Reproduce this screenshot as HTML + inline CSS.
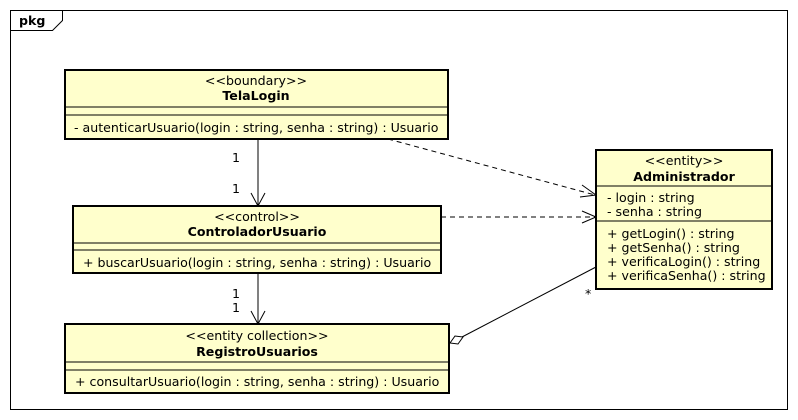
<!DOCTYPE html>
<html><head><meta charset="utf-8"><style>
html,body{margin:0;padding:0;background:#fff;}
svg{display:block;}
text{font-family:"DejaVu Sans","Liberation Sans",sans-serif;font-size:12.6px;fill:#000;}
.b{font-weight:bold;}
</style></head><body>
<svg width="798" height="420" viewBox="0 0 798 420" xmlns="http://www.w3.org/2000/svg">
<rect x="10.5" y="10.5" width="777" height="399" fill="#fff" stroke="#000" stroke-width="1"/>
<path d="M10.5 30.5 H52.5 L62.5 20.5 V10.5" fill="none" stroke="#000"/>
<text x="19" y="25" class="b" style="font-size:12.6px">pkg</text>

<line x1="258" y1="139" x2="258" y2="205" stroke="#000"/>
<path d="M251 193 L258 206 L265 193" fill="none" stroke="#000"/>
<text x="232" y="162">1</text><text x="232" y="193">1</text>
<line x1="258" y1="273" x2="258" y2="323" stroke="#000"/>
<path d="M251 311 L258 324 L265 311" fill="none" stroke="#000"/>
<text x="232" y="298">1</text><text x="232" y="312">1</text>
<line x1="388" y1="139" x2="595" y2="195" stroke="#000" stroke-dasharray="5,4"/>
<path d="M582 185 L596 195 L580 197" fill="none" stroke="#000"/>
<line x1="441" y1="217" x2="595" y2="217" stroke="#000" stroke-dasharray="5,4"/>
<path d="M582 211 L596 217 L582 223" fill="none" stroke="#000"/>
<line x1="462" y1="337" x2="596" y2="267" stroke="#000"/>
<path d="M450 343 L455 336 L463 337 L458 344 Z" fill="#fff" stroke="#000"/>
<text x="585" y="298">*</text>

<rect x="65" y="70" width="383" height="69" fill="#ffffcc" stroke="#000" stroke-width="2"/>
<text x="256" y="85" text-anchor="middle">&lt;&lt;boundary&gt;&gt;</text>
<text x="256" y="100" text-anchor="middle" class="b">TelaLogin</text>
<line x1="65" y1="107" x2="448" y2="107" stroke="#000"/>
<line x1="65" y1="115" x2="448" y2="115" stroke="#000"/>
<text x="74" y="132">- autenticarUsuario(login : string, senha : string) : Usuario</text>

<rect x="73" y="206" width="368" height="67" fill="#ffffcc" stroke="#000" stroke-width="2"/>
<text x="257" y="221" text-anchor="middle">&lt;&lt;control&gt;&gt;</text>
<text x="257" y="236" text-anchor="middle" class="b">ControladorUsuario</text>
<line x1="73" y1="243" x2="441" y2="243" stroke="#000"/>
<line x1="73" y1="250" x2="441" y2="250" stroke="#000"/>
<text x="83" y="267">+ buscarUsuario(login : string, senha : string) : Usuario</text>

<rect x="65" y="324" width="384" height="69" fill="#ffffcc" stroke="#000" stroke-width="2"/>
<text x="257" y="340" text-anchor="middle">&lt;&lt;entity collection&gt;&gt;</text>
<text x="257" y="356" text-anchor="middle" class="b">RegistroUsuarios</text>
<line x1="65" y1="362" x2="449" y2="362" stroke="#000"/>
<line x1="65" y1="370" x2="449" y2="370" stroke="#000"/>
<text x="75" y="386">+ consultarUsuario(login : string, senha : string) : Usuario</text>

<rect x="596" y="150" width="176" height="139" fill="#ffffcc" stroke="#000" stroke-width="2"/>
<text x="684" y="165" text-anchor="middle">&lt;&lt;entity&gt;&gt;</text>
<text x="684" y="181" text-anchor="middle" class="b">Administrador</text>
<line x1="596" y1="186" x2="772" y2="186" stroke="#000"/>
<text x="607" y="202">- login : string</text>
<text x="607" y="216">- senha : string</text>
<line x1="596" y1="221" x2="772" y2="221" stroke="#000"/>
<text x="607" y="238">+ getLogin() : string</text>
<text x="607" y="252">+ getSenha() : string</text>
<text x="607" y="266">+ verificaLogin() : string</text>
<text x="607" y="280">+ verificaSenha() : string</text>
</svg>
</body></html>
